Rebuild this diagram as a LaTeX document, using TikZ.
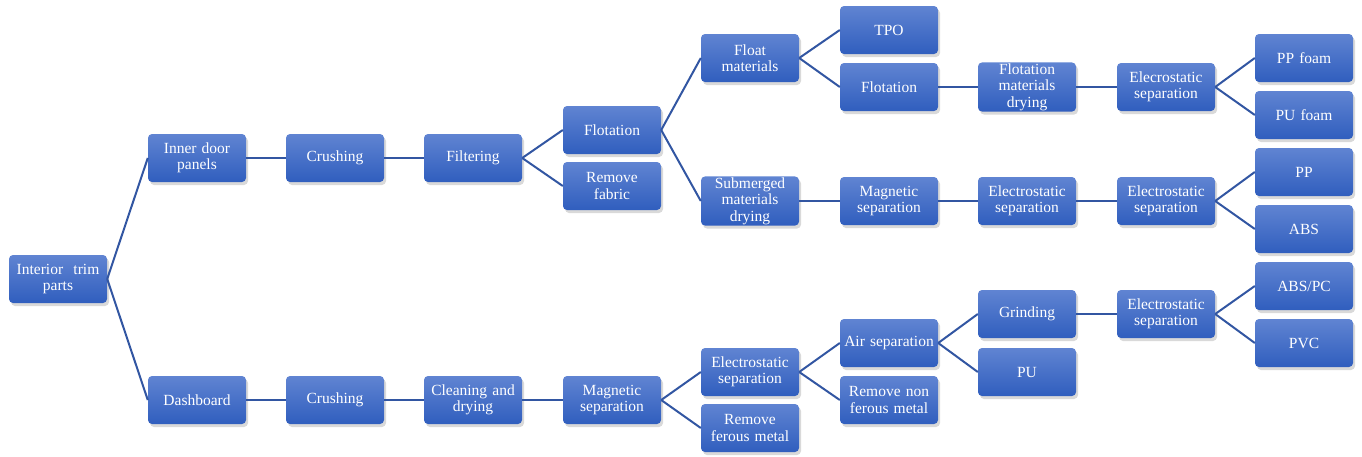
\documentclass[tikz,border=0pt]{standalone}
\usepackage{fontspec}
\setmainfont{Liberation Serif}
\usetikzlibrary{shadows}
\definecolor{boxtop}{RGB}{96,132,210}
\definecolor{boxbot}{RGB}{48,94,190}
\definecolor{linkblue}{RGB}{50,86,162}
\tikzset{
  proc/.style={rectangle, rounded corners=4pt, minimum width=98pt, minimum height=48pt,
    text width=94pt, align=center, inner sep=1pt, top color=boxtop, bottom color=boxbot,
    text=white, font=\fontsize{15.5}{16.5}\selectfont,
    drop shadow={shadow xshift=2pt, shadow yshift=-3pt, opacity=0.3}},
  link/.style={draw=linkblue, line width=2pt}
}
\begin{document}
\begin{tikzpicture}[x=1pt, y=-1pt]
            \useasboundingbox (0,0) rectangle (1362,456);
            % Nodes
            \node[proc] (itp) at (58,279) {Interior\ \ trim\\parts};
            \node[proc] (idp) at (197,158) {Inner door\\panels};
            \node[proc] (crush1) at (335,158) {Crushing};
            \node[proc] (filt) at (473,158) {Filtering};
            \node[proc] (flot1) at (612,130) {Flotation};
            \node[proc] (remfab) at (612,186) {Remove\\fabric};
            \node[proc] (floatm) at (750,58) {Float\\materials};
            \node[proc] (subm) at (750,201) {Submerged\\materials\\drying};
            \node[proc] (tpo) at (889,30) {TPO};
            \node[proc] (flot2) at (889,87) {Flotation};
            \node[proc] (magsep1) at (889,201) {Magnetic\\separation};
            \node[proc] (fmd) at (1027,87) {Flotation\\materials\\drying};
            \node[proc] (esep1) at (1027,201) {Electrostatic\\separation};
            \node[proc] (esep2) at (1166,87) {Elecrostatic\\separation};
            \node[proc] (esep3) at (1166,201) {Electrostatic\\separation};
            \node[proc] (ppfoam) at (1304,58) {PP foam};
            \node[proc] (pufoam) at (1304,115) {PU foam};
            \node[proc] (pp) at (1304,172) {PP};
            \node[proc] (abs) at (1304,229) {ABS};
            \node[proc] (dash) at (197,400) {Dashboard};
            \node[proc] (crush2) at (335,400) {Crushing};
            \node[proc] (clean) at (473,400) {Cleaning and\\drying};
            \node[proc] (magsep2) at (612,400) {Magnetic\\separation};
            \node[proc] (esep4) at (750,372) {Electrostatic\\separation};
            \node[proc] (remfer) at (750,428) {Remove\\ferous metal};
            \node[proc] (airsep) at (889,343) {\mbox{Air separation}};
            \node[proc] (remnon) at (889,400) {Remove non\\ferous metal};
            \node[proc] (grind) at (1027,314) {Grinding};
            \node[proc] (pu) at (1027,372) {PU};
            \node[proc] (esep5) at (1166,314) {Electrostatic\\separation};
            \node[proc] (abspc) at (1304,286) {ABS/PC};
            \node[proc] (pvc) at (1304,343) {PVC};

            % Lines
            \draw[link] (itp.east) -- (idp.west);
            \draw[link] (itp.east) -- (dash.west);
            \draw[link] (idp.east) -- (crush1.west);
            \draw[link] (crush1.east) -- (filt.west);
            \draw[link] (filt.east) -- (flot1.west);
            \draw[link] (filt.east) -- (remfab.west);
            \draw[link] (flot1.east) -- (floatm.west);
            \draw[link] (flot1.east) -- (subm.west);
            \draw[link] (floatm.east) -- (tpo.west);
            \draw[link] (floatm.east) -- (flot2.west);
            \draw[link] (flot2.east) -- (fmd.west);
            \draw[link] (fmd.east) -- (esep2.west);
            \draw[link] (esep2.east) -- (ppfoam.west);
            \draw[link] (esep2.east) -- (pufoam.west);
            \draw[link] (subm.east) -- (magsep1.west);
            \draw[link] (magsep1.east) -- (esep1.west);
            \draw[link] (esep1.east) -- (esep3.west);
            \draw[link] (esep3.east) -- (pp.west);
            \draw[link] (esep3.east) -- (abs.west);
            \draw[link] (dash.east) -- (crush2.west);
            \draw[link] (crush2.east) -- (clean.west);
            \draw[link] (clean.east) -- (magsep2.west);
            \draw[link] (magsep2.east) -- (esep4.west);
            \draw[link] (magsep2.east) -- (remfer.west);
            \draw[link] (esep4.east) -- (airsep.west);
            \draw[link] (esep4.east) -- (remnon.west);
            \draw[link] (airsep.east) -- (grind.west);
            \draw[link] (airsep.east) -- (pu.west);
            \draw[link] (grind.east) -- (esep5.west);
            \draw[link] (esep5.east) -- (abspc.west);
            \draw[link] (esep5.east) -- (pvc.west);
\end{tikzpicture}
\end{document}
